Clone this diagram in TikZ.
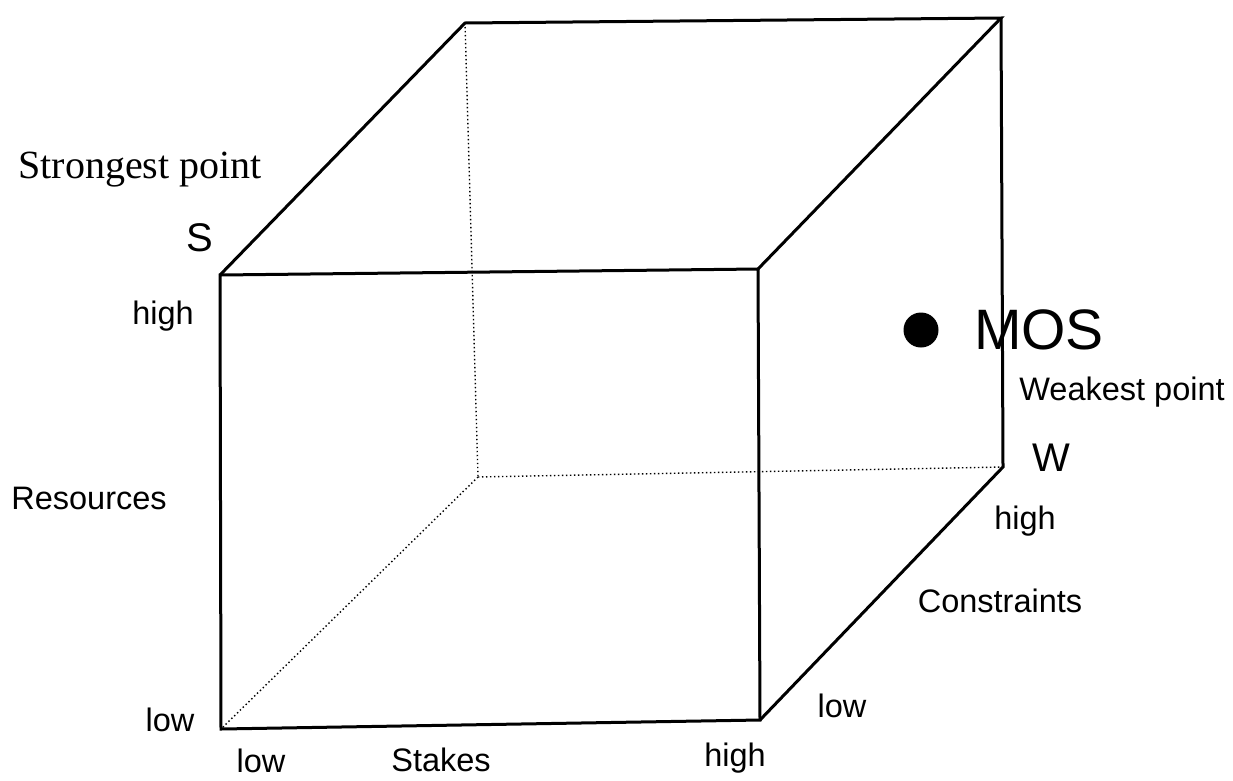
\documentclass[tikz,border=0pt]{standalone}
\usepackage{fontspec}
\setmainfont{Liberation Sans}
\newfontfamily\serifff{Liberation Serif}
\begin{document}
\begin{tikzpicture}[x=1pt,y=-1pt,
  edge/.style={line width=3pt, line join=miter},
  hidden/.style={line width=1.4pt, dash pattern=on 1.4pt off 2.6pt},
  lbl/.style={inner sep=0pt, font=\fontsize{32.5}{32.5}\selectfont},
  big/.style={inner sep=0pt, font=\fontsize{40}{40}\selectfont}]
\useasboundingbox (0,0) rectangle (1233,780);
% vertices
\coordinate (FTL) at (220,275);
\coordinate (FTR) at (758,269);
\coordinate (FBR) at (760,720);
\coordinate (FBL) at (221,729);
\coordinate (BTL) at (465,23);
\coordinate (BTR) at (1001,18);
\coordinate (BBR) at (1003,467);
\coordinate (BBL) at (478,477);
% hidden edges
\draw[hidden] (BTL) -- (BBL);
\draw[hidden] (BBL) -- (BBR);
\draw[hidden] (BBL) -- (FBL);
% visible edges
\draw[edge] (FTL) -- (FTR) -- (FBR) -- (FBL) -- cycle;
\draw[edge] (FTL) -- (BTL) -- (BTR) -- (FTR);
\draw[edge] (BTR) -- (BBR) -- (FBR);
% labels
\node[inner sep=0pt, font=\serifff\fontsize{40}{40}\selectfont] (strong) at (140,170) {Strongest point};
\node[big] (S) at (200,238) {S};
\node[lbl] (hl) at (163,316) {high};
\node[lbl] (res) at (89,498) {Resources};
\node[lbl] (ll) at (170,720) {low};
\node[lbl] (lb) at (261,761) {low};
\node[lbl] (stk) at (441,760) {Stakes};
\node[lbl] (hb) at (735,758) {high};
\node[lbl] (lr) at (842,706) {low};
\node[lbl] (con) at (1000,601) {Constraints};
\node[lbl] (hr) at (1025,521) {high};
\node[big] (W) at (1051,458) {W};
\node[lbl] (weak) at (1122,392) {Weakest point};
\fill (921,330) circle (17.5) node (dot) {};
\node[inner sep=0pt, font=\fontsize{57}{57}\selectfont] (mos) at (1039,330) {MOS};
\end{tikzpicture}
\end{document}
